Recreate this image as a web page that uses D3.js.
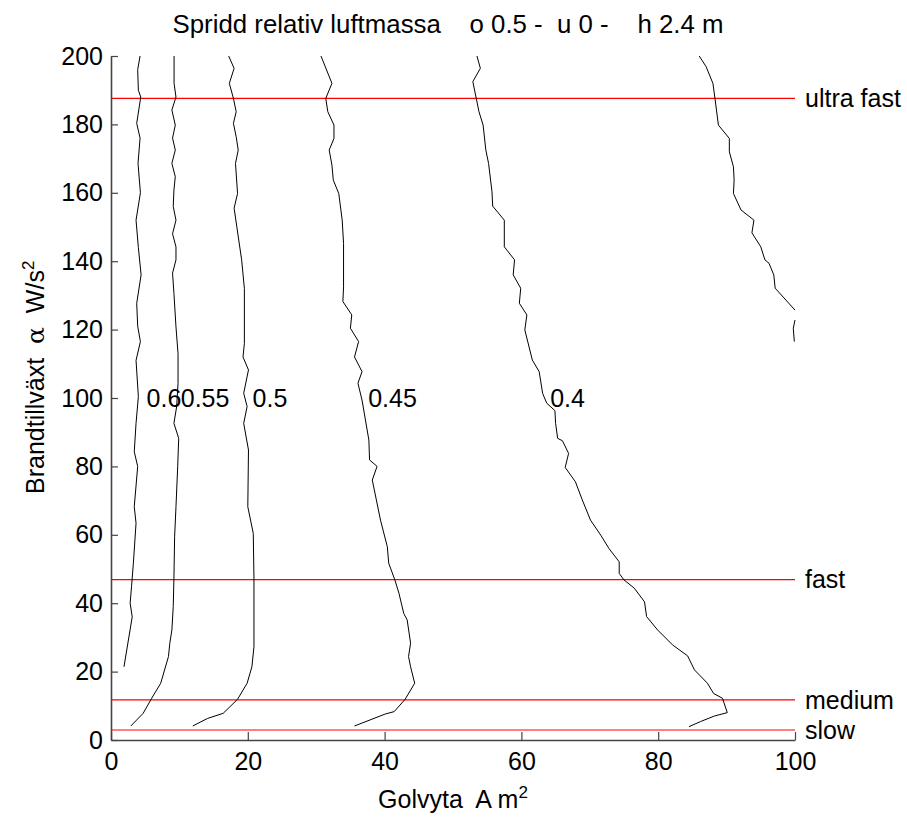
<!DOCTYPE html>
<html>
<head>
<meta charset="utf-8">
<script src="https://cdn.jsdelivr.net/npm/d3@7"></script>
<style>
  html, body { margin: 0; padding: 0; background: #fff; }
  svg text { font-family: "Liberation Sans", Arial, Helvetica, sans-serif; fill: #000; }
</style>
</head>
<body>
<svg id="chart" width="907" height="819"></svg>
<script>
// ---------- DATA ----------
const titleText = "Spridd relativ luftmassa    o 0.5 -  u 0 -    h 2.4 m";
const xTicks = [0, 20, 40, 60, 80, 100];
const yTicks = [0, 20, 40, 60, 80, 100, 120, 140, 160, 180, 200];

const growthNames = ["slow", "medium", "fast", "ultra fast"];
const growthValues = [2.93, 11.72, 46.89, 187.6];

const contourLevels = ["0.6", "0.55", "0.5", "0.45", "0.4", "0.35"];
const labelLevels = ["0.6", "0.55", "0.5", "0.45", "0.4"];
const labelAt = [[5.2, 100], [10.2, 100], [20.7, 100], [37.6, 100], [64.2, 100]];

const c060 = [[4.25,200],[3.9,196],[4.0,190],[4.35,188],[3.76,180.3],[4.25,176],[3.95,168.6],[4.3,160],[3.66,152],[4.0,144],[4.4,136],[3.76,127.7],[3.9,121],[4.3,116.5],[3.66,111],[4.0,100.4],[3.66,92.6],[3.4,84.3],[3.9,80],[3.4,68.2],[3.66,63.4],[3.27,51.7],[3.0,44.8],[2.8,40],[3.1,36],[1.9,21.4]];
const c055 = [[9.22,200],[9.22,192],[9.5,188],[8.9,184.2],[9.4,179.8],[9.0,176],[9.4,172.5],[8.9,168.6],[9.4,164.7],[9.2,160.8],[9.1,156],[9.5,152],[9.0,148],[9.5,144.2],[9.5,140.4],[9.0,136.5],[9.2,130.6],[9.5,120.8],[9.8,113],[9.8,104.3],[9.6,97.5],[9.2,92.6],[9.9,88.2],[9.75,80],[9.5,68.2],[9.3,59.4],[9.2,47.3],[9.1,39],[8.9,32.2],[8.6,28.3],[8.4,24.4],[7.27,16.6],[5.95,12.2],[4.7,7.8],[2.9,4.1]];
const c050 = [[17.2,200],[18.0,196.4],[17.3,192],[17.9,187.6],[18.3,183.7],[17.9,180.3],[18.3,176.4],[18.6,172.5],[18.2,168.6],[18.5,159.8],[18.0,155.5],[18.4,150],[19.1,140.4],[19.5,132],[19.5,116],[19.3,112],[20.1,108.2],[19.4,101.4],[19.9,97.5],[19.4,92.6],[20.1,84.8],[20.0,68.2],[20.8,60.4],[20.9,47.3],[20.9,27.3],[20.6,21.4],[19.9,16.6],[18.5,11.9],[16.4,7.8],[14.1,6.3],[11.96,4.1]];
const c045 = [[30.7,200],[32.3,192],[31.4,187.6],[31.7,183.7],[32.6,179.8],[32.6,175.9],[31.9,172.5],[32.3,168.1],[32.5,163.7],[33.3,159.8],[33.8,152],[34.0,145.2],[34.0,132.5],[33.9,128.2],[35.2,124.3],[35.0,120.4],[36.2,116.5],[35.6,112],[36.7,107.7],[36.1,104.3],[36.7,99.4],[37.7,87.7],[37.8,81.9],[38.9,80],[38.2,76],[39.4,64.3],[40.4,56.5],[40.6,51.7],[41.5,46.8],[42.1,42.9],[42.8,37],[43.3,35.1],[43.8,28.3],[43.5,24.4],[43.8,21.4],[44.4,16.6],[43.0,11.9],[41.4,8.3],[40.1,7.6],[35.6,4.1]];
const c040 = [[53.5,200],[54.0,196.4],[52.9,192.5],[53.4,187.6],[53.8,183.7],[54.4,179.8],[54.8,172.5],[55.2,168.6],[55.7,160.3],[55.8,156.1],[57.5,152],[57.5,144.2],[59.0,140.4],[58.8,136],[59.9,132.1],[59.7,127.7],[60.8,124.3],[60.5,119.9],[61.6,111.1],[62.6,107.7],[63.1,101.4],[63.2,100.9],[63.7,98.5],[64.9,96.3],[65.0,92.6],[65.3,88.2],[66.0,87.5],[66.9,83.8],[66.4,79.7],[67.9,75.5],[68.9,70.2],[70.1,64.3],[71.6,59.9],[72.8,56],[74.3,52.1],[74.3,48.7],[75.0,46.8],[76.5,44.4],[78.0,40.4],[78.3,36.1],[79.9,32.2],[82.1,27.8],[84.3,24.6],[85.3,20.5],[87.2,16.6],[88.1,13.6],[89.4,12.2],[90.1,8.0],[88.2,7.0],[86.2,5.4],[84.5,3.9]];
const c035a = [[86.0,200],[87.0,196.9],[88.0,192],[88.3,187.6],[88.8,179.8],[90.4,175.9],[90.4,172],[91.0,167.6],[91.1,163.7],[91.0,159.8],[92.1,155],[94.0,152],[93.7,148.3],[95.0,144.2],[95.6,140.4],[96.2,139.4],[96.9,136],[97.1,132.1],[100,125.7]];
const c035b = [[100,122.8],[99.75,120.4],[99.9,116.5]];

const contours = [c060, c055, c050, c045, c040, c035a, c035b];

// ---------- CHART ----------
const svg = d3.select("#chart");
const x = d3.scaleLinear().domain([0, 100]).range([111, 795]);
const y = d3.scaleLinear().domain([0, 200]).range([740, 56]);
const FS = 25;

// title
svg.append("text")
  .attr("x", 448).attr("y", 33)
  .attr("text-anchor", "middle")
  .attr("font-size", FS)
  .attr("textLength", 551).attr("lengthAdjust", "spacingAndGlyphs")
  .style("white-space", "pre")
  .attr("xml:space", "preserve")
  .text(titleText);

// red growth lines
svg.append("g").selectAll("line").data(growthValues).join("line")
  .attr("x1", x(0)).attr("x2", x(100))
  .attr("y1", d => y(d)).attr("y2", d => y(d))
  .attr("stroke", "#ff0000").attr("stroke-width", 1.2);

svg.append("g").selectAll("text").data(growthValues).join("text")
  .attr("x", x(100) + 10).attr("y", d => y(d))
  .attr("dy", "0.35em")
  .attr("font-size", FS)
  .text((d, i) => growthNames[i]);

// contours
const line = d3.line().x(d => x(d[0])).y(d => y(d[1]));
svg.append("g").selectAll("path").data(contours).join("path")
  .attr("d", line)
  .attr("fill", "none").attr("stroke", "#000").attr("stroke-width", 1);

svg.append("g").selectAll("text").data(labelLevels).join("text")
  .attr("x", (d, i) => x(labelAt[i][0]))
  .attr("y", (d, i) => y(labelAt[i][1]))
  .attr("dy", "0.35em")
  .attr("font-size", FS)
  .text(d => d);

// axes
const gx = svg.append("g").attr("transform", `translate(0,${y(0)})`)
  .call(d3.axisBottom(x).tickValues(xTicks).tickSizeInner(-8).tickSizeOuter(0).tickPadding(12));
const gy = svg.append("g").attr("transform", `translate(${x(0)},0)`)
  .call(d3.axisLeft(y).tickValues(yTicks).tickSizeInner(-7).tickSizeOuter(0).tickPadding(8));
[gx, gy].forEach(g => {
  g.select(".domain").attr("stroke", "#444").attr("stroke-width", 1.6);
  g.selectAll(".tick line").attr("stroke", "#444").attr("stroke-width", 1.2);
  g.selectAll(".tick text").attr("font-size", FS).attr("font-family", "Liberation Sans, Arial, sans-serif").attr("fill", "#000");
});

// axis labels
const xl = svg.append("text").attr("x", 453).attr("y", 808)
  .attr("text-anchor", "middle").attr("font-size", FS).attr("xml:space", "preserve");
xl.append("tspan").text("Golvyta  A m");
xl.append("tspan").attr("font-size", 17).attr("dy", -10).text("2");

const yl = svg.append("text")
  .attr("transform", "translate(44,494) rotate(-90)")
  .attr("text-anchor", "start").attr("font-size", FS).attr("xml:space", "preserve");
yl.append("tspan").text("Brandtillväxt  ");
yl.append("tspan").attr("font-family", "DejaVu Serif, serif").text("α");
yl.append("tspan").text("  W/s");
yl.append("tspan").attr("font-size", 17).attr("dy", -10).text("2");
</script>
</body>
</html>
